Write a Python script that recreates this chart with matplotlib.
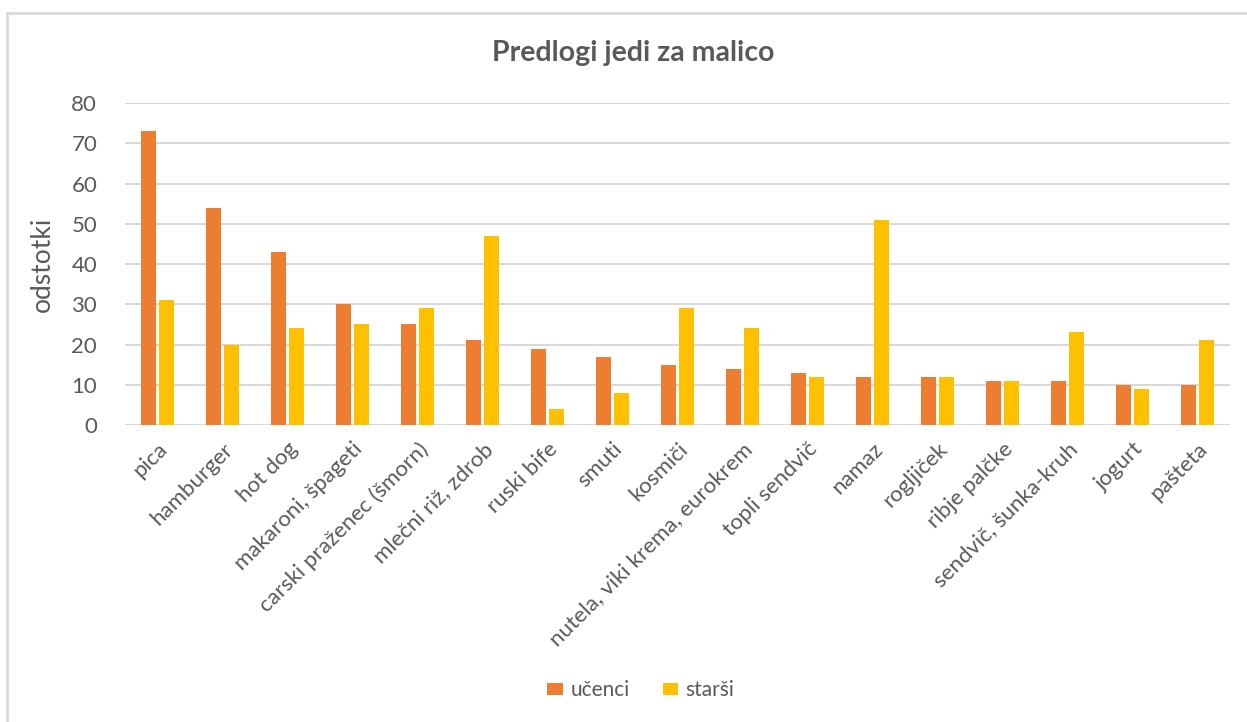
import matplotlib
matplotlib.use("Agg")
import matplotlib.pyplot as plt
import numpy as np
from matplotlib.patches import Rectangle

categories = ["pica", "hamburger", "hot dog", "makaroni, špageti", "carski praženec (šmorn)",
              "mlečni riž, zdrob", "ruski bife", "smuti", "kosmiči", "nutela, viki krema, eurokrem",
              "topli sendvič", "namaz", "rogljiček", "ribje palčke", "sendvič, šunka-kruh",
              "jogurt", "pašteta"]
ucenci = [73, 54, 43, 30, 25, 21, 19, 17, 15, 14, 13, 12, 12, 11, 11, 10, 10]
starsi = [31, 20, 24, 25, 29, 47, 4, 8, 29, 24, 12, 51, 12, 11, 23, 9, 21]
yticks = [0, 10, 20, 30, 40, 50, 60, 70, 80]

plt.rcParams['font.family'] = ['Lato', 'DejaVu Sans']
W, H = 1247, 722
fig = plt.figure(figsize=(W / 100, H / 100), dpi=100)

# outer chart frame (cropped on right/bottom)
fig.patches.append(Rectangle((7 / W, -0.1), 1.2, 1 - 13 / H + 0.1, transform=fig.transFigure,
                             fill=False, edgecolor='#D9D9D9', linewidth=2))

ax = fig.add_axes([125 / W, 1 - 425 / H, (1230 - 125) / W, (425 - 103) / H])
x = np.arange(len(categories))
bw = 0.23
off = 0.145
ax.bar(x - off, ucenci, bw, color='#ED7D31', label='učenci', zorder=3)
ax.bar(x + off, starsi, bw, color='#FFC000', label='starši', zorder=3)

ax.set_xlim(-0.5, len(categories) - 0.5)
ax.set_ylim(0, 80)
ax.set_yticks(yticks)
ax.yaxis.grid(True, color='#D9D9D9', linewidth=1.5, zorder=0)
ax.set_axisbelow(True)
for s in ax.spines.values():
    s.set_visible(False)
ax.tick_params(axis='both', length=0, colors='#595959')
ax.tick_params(axis='y', pad=20, labelsize=16)
ax.set_xticks(x)
ax.set_xticklabels(categories, rotation=45, ha='right', rotation_mode='anchor', fontsize=16, color='#595959')
ax.tick_params(axis='x', pad=10)

ax.set_ylabel('odstotki', fontsize=19, color='#595959', labelpad=12)
fig.text(633 / W, 1 - 53 / H, 'Predlogi jedi za malico', ha='center', va='center',
         fontsize=20.5, fontweight='bold', color='#595959')

leg = fig.legend(loc='center', bbox_to_anchor=(641 / W, 1 - 690 / H), ncol=2, frameon=False,
                 fontsize=15, handlelength=0.75, handleheight=0.5, columnspacing=1.6, handletextpad=0.35)
for t in leg.get_texts():
    t.set_color('#595959')

fig.savefig('out.png', dpi=100, facecolor='white')
